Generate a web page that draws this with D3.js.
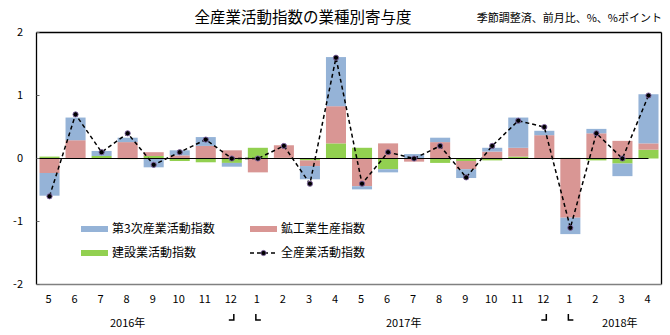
<!DOCTYPE html>
<html><head><meta charset="utf-8">
<script src="https://cdn.jsdelivr.net/npm/d3@7"></script>
<style>
body{margin:0;background:#fff;}
text{font-family:"Noto Sans CJK JP","Noto Sans",sans-serif;}
</style></head>
<body><svg id="c" width="670" height="335"></svg>
<script>
const months = ["5","6","7","8","9","10","11","12","1","2","3","4","5","6","7","8","9","10","11","12","1","2","3","4"];
const construction = [0.03,0,0.04,-0.01,0.04,-0.04,-0.06,-0.07,0.17,0.01,-0.03,0.24,0.17,-0.17,0,-0.07,-0.04,-0.03,0.03,0,0.01,-0.03,-0.08,0.14];
const mining = [-0.23,0.29,0,0.26,0.06,0.05,0.2,0.13,-0.22,0.2,-0.09,0.59,-0.44,0.24,-0.05,0.26,-0.13,0.11,0.14,0.37,-0.94,0.40,0.28,0.10];
const tertiary = [-0.36,0.36,0.08,0.07,-0.14,0.08,0.14,-0.06,0,0,-0.21,0.78,-0.05,-0.05,0.07,0.07,-0.14,0.06,0.48,0.07,-0.26,0.07,-0.20,0.78];
const total = [-0.6,0.7,0.1,0.4,-0.1,0.1,0.3,0.0,0.0,0.2,-0.4,1.6,-0.4,0.1,0.0,0.2,-0.3,0.2,0.6,0.5,-1.1,0.4,0.0,1.0];
const yTicks = [2,1,0,-1,-2];
const years = [{label:"2016年", at:3}, {label:"2017年", at:13.6}, {label:"2018年", at:21.9}];
const brackets = [7, 8, 19, 20];
const seriesNames = {construction:"建設業活動指数", mining:"鉱工業生産指数", tertiary:"第3次産業活動指数", total:"全産業活動指数"};
const colors = {construction:"#92d050", mining:"#d99694", tertiary:"#95b3d7"};

const svg = d3.select("#c");
const L=36.5, R=661.5, T=32.5, B=284.5;
const x = d3.scaleBand().domain(d3.range(months.length)).range([L,R]).paddingInner(0.23).paddingOuter(0.115);
const y = d3.scaleLinear().domain([-2,2]).range([B,T]);
const cx = i => x(i) + x.bandwidth()/2;
const step = x.step();
const xc = v => L + step*(v+0.5);

const table = months.map((m,i)=>({i, construction:construction[i], mining:mining[i], tertiary:tertiary[i]}));
const keys = ["construction","mining","tertiary"];
const stack = d3.stack().keys(keys).offset(d3.stackOffsetDiverging)(table);

// bars
stack.forEach(s=>{
  svg.append("g").selectAll("rect").data(s).join("rect")
    .attr("x", d=>x(d.data.i))
    .attr("width", x.bandwidth())
    .attr("y", d=>y(Math.max(d[0],d[1])))
    .attr("height", d=>Math.abs(y(d[0])-y(d[1])))
    .attr("fill", colors[s.key]);
});

// zero line
svg.append("line").attr("x1",L).attr("x2",cx(months.length-1)).attr("y1",y(0)).attr("y2",y(0))
  .attr("stroke","#000").attr("stroke-width",1.2);

// frame
svg.append("line").attr("x1",L).attr("x2",R).attr("y1",T).attr("y2",T).attr("stroke","#000").attr("stroke-width",1.3);
svg.append("line").attr("x1",L).attr("x2",L).attr("y1",T).attr("y2",B).attr("stroke","#000").attr("stroke-width",1.3);
svg.append("line").attr("x1",R).attr("x2",R).attr("y1",T).attr("y2",B).attr("stroke","#000").attr("stroke-width",1.3);
svg.append("line").attr("x1",L).attr("x2",R).attr("y1",B).attr("y2",B).attr("stroke","#808080").attr("stroke-width",1.3);

// y axis ticks + labels
yTicks.forEach(t=>{
  svg.append("line").attr("x1",L).attr("x2",L+3).attr("y1",y(t)).attr("y2",y(t)).attr("stroke","#666").attr("stroke-width",1);
  svg.append("text").attr("x",23).attr("y",y(t)).attr("dy","0.35em").attr("text-anchor","end")
    .attr("font-size",11).text(t);
});

// line
const line = d3.line().x((d,i)=>cx(i)).y(d=>y(d));
svg.append("path").datum(total).attr("d",line).attr("fill","none").attr("stroke","#000")
  .attr("stroke-width",1.5).attr("stroke-dasharray","4,3");
svg.append("g").selectAll("circle").data(total).join("circle")
  .attr("cx",(d,i)=>cx(i)).attr("cy",d=>y(d)).attr("r",2.6)
  .attr("fill","#000").attr("stroke","#8064a2").attr("stroke-width",0.9);

// x labels
svg.append("g").selectAll("text").data(months).join("text")
  .attr("x",(d,i)=>cx(i)-1).attr("y",303).attr("text-anchor","middle").attr("font-size",11).text(d=>d);
years.forEach(yr=>{
  svg.append("text").attr("x",xc(yr.at)).attr("y",327).attr("text-anchor","middle").attr("font-size",11).text(yr.label);
});
brackets.forEach((b,k)=>{
  const px = cx(b);
  const p = (k%2===0)
    ? `M${px+2},${314}V${320}H${px-3}`
    : `M${px-2},${314}V${320}H${px+3}`;
  svg.append("path").attr("d",p).attr("fill","none").attr("stroke","#000").attr("stroke-width",1.5);
});

// title
svg.append("text").attr("x",303).attr("y",23).attr("text-anchor","middle").attr("font-size",15.5).text("全産業活動指数の業種別寄与度");
svg.append("text").attr("x",662).attr("y",22).attr("text-anchor","end").attr("font-size",11).text("季節調整済、前月比、%、%ポイント");

// legend
const leg = [
  {k:"tertiary", x:81, y:229},
  {k:"mining", x:250, y:229},
  {k:"construction", x:81, y:253},
  {k:"total", x:250, y:253}
];
leg.forEach(l=>{
  if(l.k==="total"){
    svg.append("line").attr("x1",l.x).attr("x2",l.x+27).attr("y1",l.y).attr("y2",l.y)
      .attr("stroke","#000").attr("stroke-width",1.5).attr("stroke-dasharray","4,3");
    svg.append("circle").attr("cx",l.x+13.5).attr("cy",l.y).attr("r",2.6).attr("fill","#000").attr("stroke","#8064a2").attr("stroke-width",0.9);
  } else {
    svg.append("rect").attr("x",l.x).attr("y",l.y-3).attr("width",27).attr("height",6).attr("fill",colors[l.k]);
  }
  svg.append("text").attr("x",l.x+31).attr("y",l.y).attr("dy","0.36em").attr("font-size",12).text(seriesNames[l.k]);
});
</script></body></html>
